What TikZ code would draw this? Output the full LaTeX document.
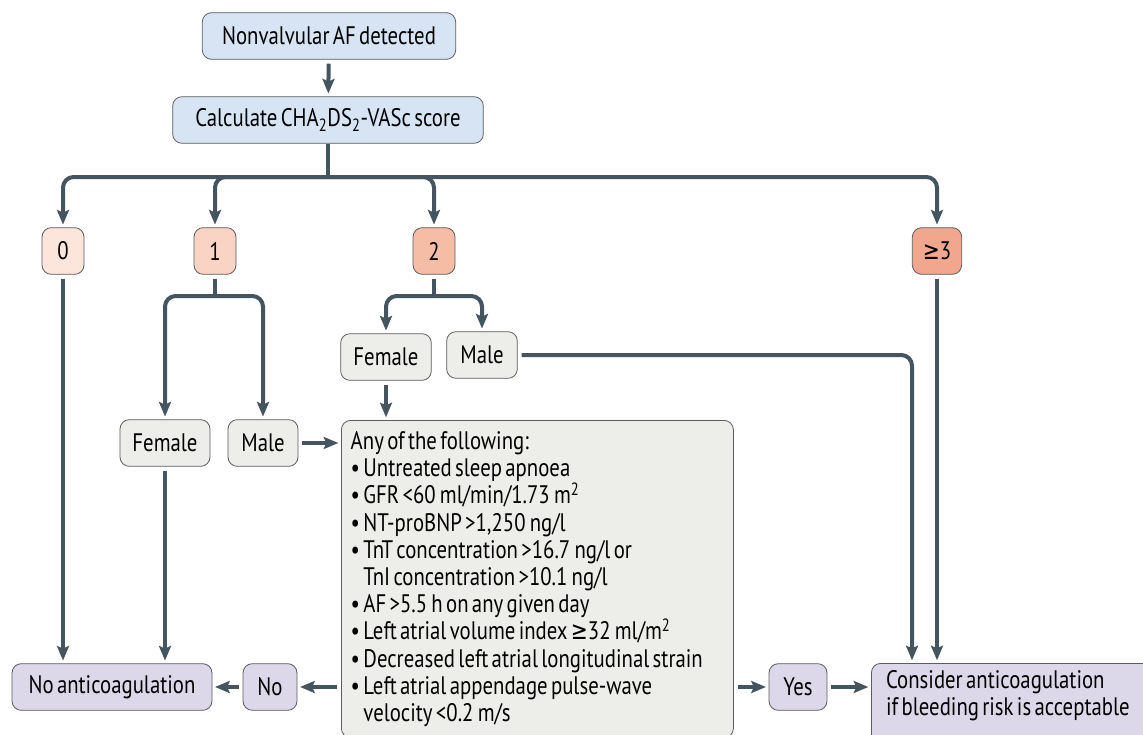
\documentclass[tikz,border=0pt]{standalone}
\usepackage{fontspec}
\setmainfont{PT Sans}[FakeStretch=0.82, WordSpace=0.6]
\newfontfamily\symfont{DejaVu Sans}[FakeStretch=0.8]
\usepackage{tikz}
\usetikzlibrary{arrows.meta}

\definecolor{flowline}{HTML}{44555F}
\definecolor{boxline}{HTML}{5A5C5E}
\definecolor{bluefill}{HTML}{D6E4F3}
\definecolor{greyfill}{HTML}{EDEEE9}
\definecolor{purplefill}{HTML}{DCD8EA}
\definecolor{zerofill}{HTML}{FCE5DB}
\definecolor{onefill}{HTML}{F9D4C4}
\definecolor{twofill}{HTML}{F5BCA6}
\definecolor{threefill}{HTML}{F0A78E}

\newcommand{\geqsign}{{\symfont ≥}}
\newcommand{\tightspace}{\spaceskip=\fontdimen2\font plus 0.05em\xspaceskip=\spaceskip}

\begin{document}
\begin{tikzpicture} [
    x=0.75pt, y=-0.75pt,
    every node/.style = {font=\fontsize{19}{20.4}\selectfont, text=black},
    box/.style = {draw=boxline, line width=0.6pt, rounded corners=7pt, minimum height=35pt, inner sep=2pt},
    blue/.style = {box, fill=bluefill},
    grey/.style = {box, fill=greyfill},
    purple/.style = {box, fill=purplefill},
    trunk/.style = {draw=flowline, line width=3pt},
    flow/.style = {trunk, rounded corners=8pt, -{Stealth[length=11pt, width=9pt, inset=2pt]}},
    gap/.style = {shorten <=3pt, shorten >=2pt}
]
    \useasboundingbox (0,0) rectangle (1143,735);

    \node [blue, minimum width=190pt] (af) at (329,36) {Nonvalvular AF detected};
    \node [blue, minimum width=233pt] (score) at (328,120) {Calculate CHA\textsubscript{2}DS\textsubscript{2}-VASc score};

    \node [box, fill=zerofill, minimum width=31.5pt] (s0) at (63,251) {0};
    \node [box, fill=onefill, minimum width=31.5pt] (s1) at (215,251) {1};
    \node [box, fill=twofill, minimum width=31.5pt] (s2) at (434,251) {2};
    \node [box, fill=threefill, minimum width=37pt] (s3) at (937,251) {\geqsign3};

    \node [grey, minimum width=67.5pt] (f1) at (165,443) {Female};
    \node [grey, minimum width=52.5pt] (m1) at (263,443) {Male};
    \node [grey, minimum width=68pt] (f2) at (386,357) {Female};
    \node [grey, minimum width=53pt] (m2) at (482,355) {Male};

    \node [grey, anchor=north west, text width=280pt, inner xsep=7pt, inner ysep=4pt,
        minimum height=238pt, align=left] (any) at (341,420) {\tightspace Any of the following:\\
        \textbullet\ Untreated sleep apnoea\\
        \textbullet\ GFR <60\,ml/min/1.73\,m\textsuperscript{2}\\
        \textbullet\ NT-proBNP >1,250\,ng/l\\
        \textbullet\ TnT concentration >16.7\,ng/l or\\
        \hphantom{\textbullet\ }TnI concentration >10.1\,ng/l\\
        \textbullet\ AF >5.5\,h on any given day\\
        \textbullet\ Left atrial volume index \geqsign32\,ml/m\textsuperscript{2}\\
        \textbullet\ Decreased left atrial longitudinal strain\\
        \textbullet\ Left atrial appendage pulse-wave\\
        \hphantom{\textbullet\ }velocity <0.2\,m/s};

    \node [purple, minimum width=150pt] (noac) at (112,687) {No anticoagulation};
    \node [purple, minimum width=40.5pt] (no) at (270,687) {No};
    \node [purple, minimum width=43.5pt] (yes) at (798,687) {Yes};
    \node [purple, anchor=north west, text width=300pt, inner xsep=11pt, inner ysep=5pt,
        align=left] (consider) at (871,663)
        {\tightspace Consider anticoagulation\\if bleeding risk is acceptable\\\mbox{}};

    \coordinate (bar) at (328,177);
    \coordinate (bar1) at (215,296);
    \coordinate (bar2) at (434,296);
    \coordinate (turn) at (912,0);

    \draw[flow, gap] (af) -- (score);
    \draw[trunk] (score.south) -- (bar);
    \draw[flow, shorten >=2pt] (bar) -| (s0);
    \draw[flow, shorten >=2pt] (bar) -| (s1);
    \draw[flow, shorten >=2pt] (bar) -| (s2);
    \draw[flow, shorten >=2pt] (bar) -| (s3);

    \draw[trunk, shorten <=3pt] (s1) -- (bar1);
    \draw[flow, shorten >=2pt] (bar1) -| (f1);
    \draw[flow, shorten >=2pt] (bar1) -| (m1);
    \draw[trunk, shorten <=3pt] (s2) -- (bar2);
    \draw[flow, shorten >=2pt] (bar2) -| (f2);
    \draw[flow, shorten >=2pt] (bar2) -| (m2);

    \draw[flow, gap] (s0) -- (s0 |- noac.north);
    \draw[flow, gap] (f1) -- (f1 |- noac.north);
    \draw[flow, gap] (m1) -- (m1 -| any.west);
    \draw[flow, gap] (f2) -- (f2 |- any.north);
    \draw[flow, gap] (m2) -| (turn |- consider.north);
    \draw[flow, gap] (s3) -- (s3 |- consider.north);

    \draw[flow, gap] (any.west |- no) -- (no);
    \draw[flow, gap] (no) -- (noac);
    \draw[flow, gap] (any.east |- yes) -- (yes);
    \draw[flow, gap] (yes) -- (yes -| consider.west);
\end{tikzpicture}
\end{document}
